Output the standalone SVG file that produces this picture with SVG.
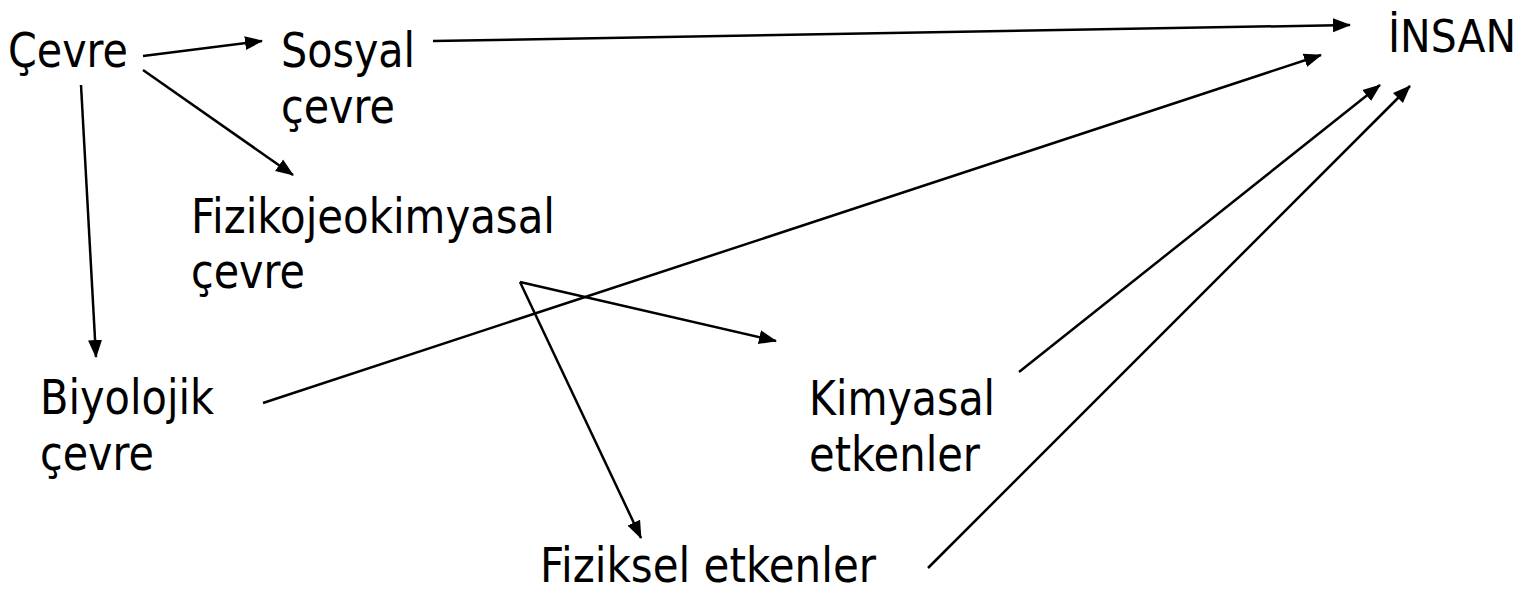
<svg xmlns="http://www.w3.org/2000/svg" width="1530" height="595" viewBox="0 0 1530 595">
<style>
text{font-family:"DejaVu Sans","Liberation Sans",sans-serif;font-size:48px;fill:#000}
.c line{stroke:#000;stroke-width:2.5;fill:none;marker-end:url(#ah)}
</style>
<defs>
<marker id="ah" markerUnits="userSpaceOnUse" markerWidth="18" markerHeight="15" refX="17" refY="7" orient="auto" viewBox="0 0 18 14">
<path d="M0,0 L18,7 L0,14 z" fill="#000"/>
</marker>
</defs>
<rect width="1530" height="595" fill="#fff"/>
<g class="c" id="connectors">
<line x1="143" y1="56" x2="262" y2="41"/>
<line x1="143" y1="70" x2="293" y2="175"/>
<line x1="81" y1="85" x2="96" y2="357"/>
<line x1="433" y1="41" x2="1350" y2="25"/>
<line x1="263" y1="403" x2="1321" y2="55"/>
<line x1="1019" y1="372" x2="1380" y2="85"/>
<line x1="928" y1="568" x2="1410" y2="86"/>
<line x1="520" y1="282" x2="776" y2="341"/>
<line x1="520" y1="282" x2="641" y2="538"/>
</g>
<g id="cevre"><text x="8" y="67" textLength="120" lengthAdjust="spacingAndGlyphs">Çevre</text></g>
<g id="sosyal"><text x="281" y="67" textLength="134" lengthAdjust="spacingAndGlyphs">Sosyal</text><text x="281" y="123" textLength="114" lengthAdjust="spacingAndGlyphs">çevre</text></g>
<g id="insan"><text x="1388" y="52" style="font-size:45px" textLength="128" lengthAdjust="spacingAndGlyphs">İNSAN</text></g>
<g id="fizikojeo"><text x="191" y="233" textLength="364" lengthAdjust="spacingAndGlyphs">Fizikojeokimyasal</text><text x="191" y="288" textLength="114" lengthAdjust="spacingAndGlyphs">çevre</text></g>
<g id="biyolojik"><text x="40" y="414" textLength="174" lengthAdjust="spacingAndGlyphs">Biyolojik</text><text x="40" y="470" textLength="114" lengthAdjust="spacingAndGlyphs">çevre</text></g>
<g id="kimyasal"><text x="809" y="415" textLength="186" lengthAdjust="spacingAndGlyphs">Kimyasal</text><text x="809" y="471" textLength="171" lengthAdjust="spacingAndGlyphs">etkenler</text></g>
<g id="fiziksel"><text x="540" y="582" textLength="336" lengthAdjust="spacingAndGlyphs">Fiziksel etkenler</text></g>
</svg>
